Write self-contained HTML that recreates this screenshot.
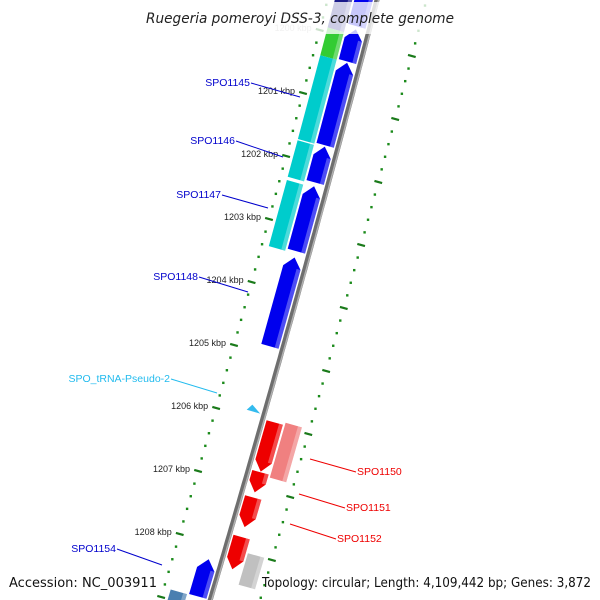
<!DOCTYPE html>
<html><head><meta charset="utf-8"><style>
html,body{margin:0;padding:0;background:#fff;width:600px;height:600px;overflow:hidden;}
svg{display:block;font-family:"Liberation Sans","DejaVu Sans",sans-serif;}
</style></head><body>
<svg id="map" width="600" height="600" viewBox="0 0 600 600" xmlns="http://www.w3.org/2000/svg" overflow="hidden">
<g id="backbone"></g>
<g id="ticks"></g>
<g id="features"></g>
<g id="labels"></g>
<rect x="140" y="2" width="320" height="32" fill="#fff" fill-opacity="0.78"/>
<text x="146" y="23" font-size="14" font-style="italic" fill="#222" textLength="308" lengthAdjust="spacingAndGlyphs" style="font-family:'DejaVu Sans',sans-serif">Ruegeria pomeroyi DSS-3, complete genome</text>
<text x="9" y="587" font-size="13" fill="#111" textLength="148" lengthAdjust="spacingAndGlyphs" style="font-family:'DejaVu Sans',sans-serif">Accession: NC_003911</text>
<text x="262" y="587" font-size="13" fill="#111" textLength="329" lengthAdjust="spacingAndGlyphs" style="font-family:'DejaVu Sans',sans-serif">Topology: circular; Length: 4,109,442 bp; Genes: 3,872</text>
</svg>
<script>
const tickKbp = [1200,1201,1202,1203,1204,1205,1206,1207,1208];
const tickText = ["1200 kbp","1201 kbp","1202 kbp","1203 kbp","1204 kbp","1205 kbp","1206 kbp","1207 kbp","1208 kbp"];
const blueStarts = [1198.9,1199.84,1200.37,1201.7,1202.33,1203.46,1208.25];
const blueEnds   = [1199.79,1200.35,1201.68,1202.27,1203.36,1204.87,1208.84];
const laneStarts = [1198.9,1199.93,1200.37,1201.72,1202.35,1208.85];
const laneEnds   = [1199.93,1200.37,1201.7,1202.3,1203.4,1209.3];
const laneColors = ["#1a1a8a","#33cc33","#00cccc","#00cccc","#00cccc","#4a7fb0"];
const redStarts = [1205.97,1206.76,1207.16,1207.79];
const redEnds   = [1206.75,1207.08,1207.63,1208.3];
const revLaneStarts = [1205.93,1208.0];
const revLaneEnds   = [1206.8,1208.5];
const revLaneColors = ["#f08080","#c0c0c0"];
const trnaKbp = [1205.8];

const NS="http://www.w3.org/2000/svg";
function yB(k){return 43+63*(k-1200);}
function x0(y){return 377-0.26*y-0.00003*y*y;}
function P(k,off){const y=yB(k);return [x0(y)+0.96*off, y+0.27*off];}
function pts(arr){return arr.map(p=>p[0].toFixed(1)+","+p[1].toFixed(1)).join(" ");}
function mk(tag,parent,attrs){const e=document.createElementNS(NS,tag);for(const k in attrs)e.setAttribute(k,attrs[k]);document.getElementById(parent).appendChild(e);return e;}

let bb=[];for(let k=1199;k<=1209.4;k+=0.1)bb.push(P(k,0));
let e=mk("polyline","backbone",{points:pts(bb),fill:"none",stroke:"#6e6e6e","stroke-width":5});


bb=[];for(let k=1199;k<=1209.4;k+=0.1)bb.push(P(k,1.5));
e=mk("polyline","backbone",{points:pts(bb),fill:"none",stroke:"#b0b0b0","stroke-width":1.5});



for(let i=0;i<=52;i++){
  const k=1199+i*0.2;
  const isMajor=Math.abs(k-Math.round(k))<0.01;
  [-48,48].forEach(off=>{
    if(isMajor){
      const a=P(k,off-4),b=P(k,off+4);
      const t=mk("line","ticks",{x1:a[0],y1:a[1],x2:b[0],y2:b[1],stroke:"#1a7a1a","stroke-width":2.2});
      
      
    }else{
      const c=P(k,off);
      const d=mk("rect","ticks",{x:c[0]-1.2,y:c[1]-1.2,width:2.4,height:2.4,fill:"#1a8a1a"});
      
      
    }
  });
}
tickKbp.forEach((k,i)=>{
  const c=P(k,-48);
  const t=mk("text","ticks",{x:c[0]-8,y:c[1]+1,"text-anchor":"end","font-size":"9",fill:k===1200?"#bbb":"#222"});
  t.textContent=tickText[i];
  
  
});

function rectF(a,b,o1,o2,col,name){
  const p=mk("polygon","features",{points:pts([P(a,o1),P(a,o2),P(b,o2),P(b,o1)]),fill:col});
  
  
  const h=mk("polygon","features",{points:pts([P(a,o2-4),P(a,o2),P(b,o2),P(b,o2-4)]),fill:"#fff","fill-opacity":0.3});
  
  
}
function arrowUp(a,b,o1,o2,col,name){
  const m=(o1+o2)/2,h=Math.min(0.16,(b-a)*0.5);
  const p=mk("polygon","features",{points:pts([P(a,m),P(a+h,o2),P(b,o2),P(b,o1),P(a+h,o1)]),fill:col});
  
  
  const s=mk("polygon","features",{points:pts([P(a+h,o2-4),P(a+h,o2),P(b,o2),P(b,o2-4)]),fill:"#fff","fill-opacity":0.3});
  
  
}
function arrowDown(a,b,o1,o2,col,name){
  const m=(o1+o2)/2,h=Math.min(0.16,(b-a)*0.5);
  const p=mk("polygon","features",{points:pts([P(a,o1),P(a,o2),P(b-h,o2),P(b,m),P(b-h,o1)]),fill:col});
  
  
  const s=mk("polygon","features",{points:pts([P(a,o2-4),P(a,o2),P(b-h,o2),P(b-h,o2-4)]),fill:"#fff","fill-opacity":0.3});
  
  
}
laneStarts.forEach((a,i)=>rectF(a,laneEnds[i],-41,-24,laneColors[i],'feature-block'));
blueStarts.forEach((a,i)=>arrowUp(a,blueEnds[i],-22,-4,"#0000ee",'forward-gene'));
revLaneStarts.forEach((a,i)=>rectF(a,revLaneEnds[i],23,40,revLaneColors[i],'reverse-block'));
redStarts.forEach((a,i)=>arrowDown(a,redEnds[i],4,21,"#ee0000",'reverse-gene'));
trnaKbp.forEach(k=>{
  const t=mk("polygon","features",{points:pts([P(k,-14),P(k+0.1,-4),P(k+0.1,-18)]),fill:"#33bbee"});
  
  
});

const labs=[
 ["SPO1145",250,86,"end",300,97,"#0000cc"],
 ["SPO1146",235,144,"end",283,157,"#0000cc"],
 ["SPO1147",221,198,"end",268,208,"#0000cc"],
 ["SPO1148",198,280,"end",248,292,"#0000cc"],
 ["SPO_tRNA-Pseudo-2",170,382,"end",217,393,"#22bbee"],
 ["SPO1154",116,552,"end",162,565,"#0000cc"],
 ["SPO1150",357,475,"start",310,459,"#ee0000"],
 ["SPO1151",346,511,"start",299,494,"#ee0000"],
 ["SPO1152",337,542,"start",290,524,"#ee0000"]
];
labs.forEach(l=>{
  const lx=l[3]==="end"?l[1]+1:l[1]-1;
  const ln=mk("line","labels",{x1:lx,y1:l[2]-3,x2:l[4],y2:l[5],stroke:l[6],"stroke-width":1});
  
  
  const t=mk("text","labels",{x:l[1],y:l[2],"text-anchor":l[3],"font-size":"10.5",fill:l[6]});
  t.textContent=l[0];
  
  
});
</script>
</body></html>
